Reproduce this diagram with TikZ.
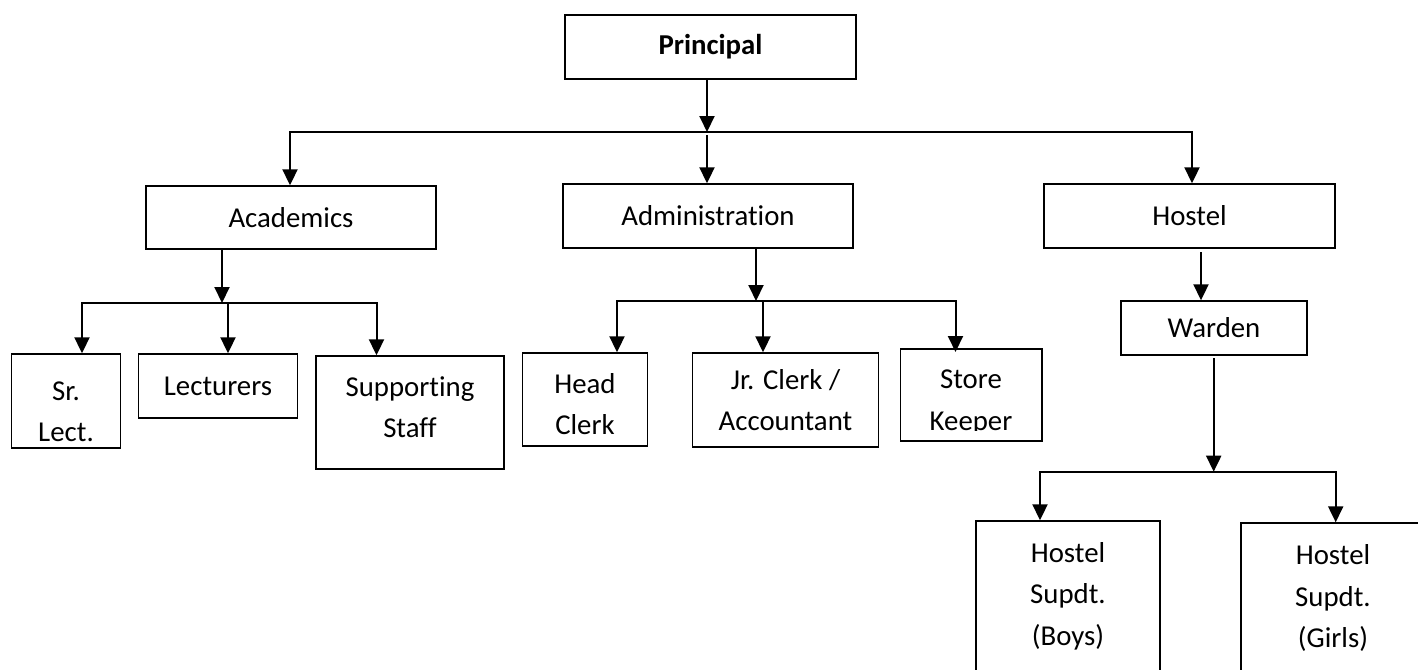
\documentclass[tikz,border=0pt]{standalone}
\usepackage{fontspec}
\setmainfont{Carlito}[Ligatures=NoCommon]
\usetikzlibrary{arrows.meta}
\begin{document}
\begin{tikzpicture}[x=1pt,y=-1pt,
  box/.style={draw,line width=1.4pt,inner sep=0pt,rectangle,align=center,font=\fontsize{28.8}{41.5}\selectfont},
  txt/.style={align=center,inner sep=0pt,font=\fontsize{28.8}{41.5}\selectfont},
  conn/.style={line width=2pt},
  arr/.style={conn,-{Triangle[width=15pt,length=16pt]}}]
\clip (0,0) rectangle (1418,669);
% boxes
\node[box,minimum width=291pt,minimum height=64pt] (prin) at (710.5,47) {\textbf{Principal}};
\node[box,minimum width=290pt,minimum height=63pt] (acad) at (291,217.5) {Academics};
\node[box,minimum width=290pt,minimum height=64pt] (admin) at (708,216) {Administration};
\node[box,minimum width=291pt,minimum height=64pt] (hostel) at (1189.5,216) {Hostel};
\node[box,minimum width=108.5pt,minimum height=94pt] (srl) at (66,401) {};
\node[txt] (srlt) at (66,412) {Sr.\\Lect.};
\node[box,minimum width=158.5pt,minimum height=64pt] (lect) at (218,386) {Lecturers};
\node[box,minimum width=188pt,minimum height=113pt] (supp) at (410,412.5) {};
\node[txt] (suppt) at (410,407) {Supporting\\Staff};
\node[box,minimum width=124.5pt,minimum height=93pt] (head) at (585,399.5) {};
\node[txt] (headt) at (585,404) {Head\\Clerk};
\node[box,minimum width=186pt,minimum height=94pt] (jrc) at (785.5,400) {Jr. Clerk /\\Accountant};
\node[box,minimum width=141.6pt,minimum height=92pt] (stk) at (971,395) {};
\begin{scope}
\clip (stk.north west) rectangle (1042,430);
\node[txt] (stkt) at (971,402.5) {Store\\Keeper};
\end{scope}
\node[box,minimum width=185.7pt,minimum height=54pt] (ward) at (1214,328) {Warden};
\node[box,minimum width=184pt,minimum height=150pt] (boys) at (1068,596) {Hostel\\Supdt.\\(Boys)};
\node[box,minimum width=184pt,minimum height=150pt] (girls) at (1333,598) {Hostel\\Supdt.\\(Girls)};
% principal level
\coordinate (jp) at (707,132);
\coordinate (jpl) at (290,132);
\coordinate (jpr) at (1192,132);
\coordinate (jpm) at (707,135);
\draw[arr] (prin.south -| jp) -- (jp);
\draw[arr] (jpr) -- (jpl) -- (acad.north -| jpl);
\draw[arr] (jpl) -- (jpr) -- (hostel.north -| jpr);
\draw[arr] (jpm) -- (admin.north -| jpm);
% academics
\coordinate (ja) at (222,303);
\coordinate (ja1) at (82,303);
\coordinate (ja2) at (228,303);
\coordinate (ja3) at (376.5,303);
\draw[arr] (acad.south -| ja) -- (ja);
\draw[arr] (ja3) -- (ja1) -- (srl.north -| ja1);
\draw[arr] (ja1) -- (ja3) -- (supp.north -| ja3);
\draw[arr] (ja2) -- (lect.north -| ja2);
% administration
\coordinate (jd) at (756,301);
\coordinate (jd1) at (617,301);
\coordinate (jd2) at (763,301);
\coordinate (jd3) at (955.5,301);
\coordinate (jd3e) at (955.5,352);
\draw[arr] (admin.south -| jd) -- (jd);
\draw[arr] (jd3) -- (jd1) -- (head.north -| jd1);
\draw[arr] (jd1) -- (jd3) -- (jd3e);
\draw[arr] (jd2) -- (jrc.north -| jd2);
% hostel
\coordinate (jh0) at (1201,252);
\draw[arr] (jh0) -- (ward.north -| jh0);
\coordinate (jw0) at (1213.7,358);
\coordinate (jw) at (1213.7,471.7);
\coordinate (jw1) at (1040,471.7);
\coordinate (jw2) at (1335.7,471.7);
\draw[arr] (jw0) -- (jw);
\draw[arr] (jw2) -- (jw1) -- (boys.north -| jw1);
\draw[arr] (jw1) -- (jw2) -- (girls.north -| jw2);
\end{tikzpicture}
\end{document}
